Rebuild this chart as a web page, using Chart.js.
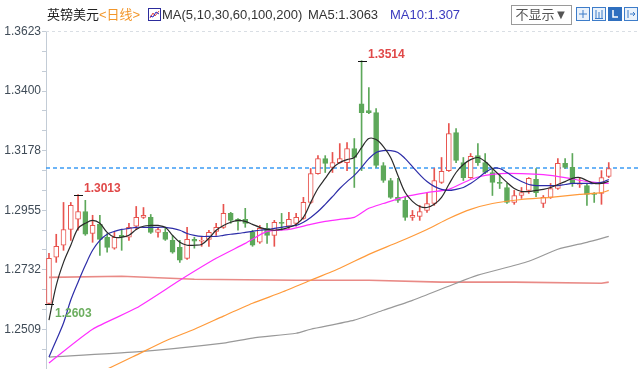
<!DOCTYPE html>
<html>
<head>
<meta charset="utf-8">
<script src="https://cdn.jsdelivr.net/npm/chart.js@4.4.1/dist/chart.umd.min.js"></script>
<style>
  body { margin: 0; background: #fff; }
  #wrap { position: relative; width: 640px; height: 380px; font-family: Arial, "Liberation Sans", "Noto Sans CJK SC", sans-serif; }
  #wrap canvas { position: absolute; left: 0; top: 0; }
  .hd { position: absolute; top: 6px; font-size: 13px; line-height: 17px; white-space: nowrap; color: #333; }
  #name { left: 47px; color: #222; }
  #name span { color: #f2962a; }
  #maIcon { position: absolute; left: 148px; top: 8px; }
  #maList { left: 162px; }
  #ma5Txt { left: 308px; }
  #ma10Txt { left: 390px; color: #3a3abf; }
  #hideBox { position: absolute; left: 511px; top: 5px; width: 59px; height: 18px; border: 1px solid #9a9a9a; font-size: 13px; line-height: 18px; color: #555; text-align: center; }
  .tb { position: absolute; top: 7px; }
</style>
</head>
<body>
<div id="wrap">
  <canvas id="myChart" width="640" height="380"></canvas>
  <div class="hd" id="name">英镑美元<span>&lt;日线&gt;</span></div>
  <svg id="maIcon" width="13" height="13"><rect x="0.5" y="0.5" width="12" height="12" fill="#fff" stroke="#2c2c9c"/><polyline points="2,10 5,5 7,8 11,3" fill="none" stroke="#e04848"/><polyline points="2,8 5,9 8,4 11,6" fill="none" stroke="#2c2cc0"/></svg>
  <div class="hd" id="maList">MA(5,10,30,60,100,200)</div>
  <div class="hd" id="ma5Txt"></div>
  <div class="hd" id="ma10Txt"></div>
  <div id="hideBox">不显示▼</div>
  <svg class="tb" style="left:576px" width="14" height="14"><rect x="0.5" y="0.5" width="13" height="13" fill="#eaf2fb" stroke="#3d7cc9"/><path d="M7 3V11M3 7H11" stroke="#3d7cc9"/></svg>
  <svg class="tb" style="left:592px" width="14" height="14"><rect x="0.5" y="0.5" width="13" height="13" fill="#eaf2fb" stroke="#3d7cc9"/><path d="M4 3V11M7 5V11M10 3V11M3 11.5H11" stroke="#3d7cc9"/></svg>
  <svg class="tb" style="left:608px" width="14" height="14"><rect x="0.5" y="0.5" width="13" height="13" fill="#2f6fbf" stroke="#2f6fbf"/><path d="M5 3V10H10" stroke="#fff" stroke-width="1.5" fill="none"/></svg>
  <svg class="tb" style="left:624px" width="14" height="14"><rect x="0.5" y="0.5" width="13" height="13" fill="#eaf2fb" stroke="#3d7cc9"/><path d="M4 3V11M6 7H11M9 5L11 7L9 9" stroke="#3d7cc9" fill="none"/></svg>
</div>
<script>
// daily candles, oldest first
const opens = [1.2606, 1.2779, 1.2824, 1.2883, 1.2921, 1.2950, 1.2868, 1.2902, 1.2854, 1.2813,
  1.2861, 1.2854, 1.2895, 1.2928, 1.2928, 1.2872, 1.2872, 1.2842, 1.2816, 1.2775,
  1.2846, 1.2839, 1.2846, 1.2876, 1.2891, 1.2943, 1.2921, 1.2921, 1.2872, 1.2835,
  1.2887, 1.2861, 1.2910, 1.2895, 1.2906, 1.2924, 1.2984, 1.3092, 1.3148, 1.3115,
  1.3133, 1.3133, 1.3185, 1.3353, 1.3327, 1.3320, 1.3122, 1.3066, 1.3003, 1.2992,
  1.2928, 1.2932, 1.2954, 1.2980, 1.3059, 1.3103, 1.3245, 1.3133, 1.3077, 1.3159,
  1.3133, 1.3096, 1.3059, 1.3040, 1.2984, 1.3010, 1.3029, 1.3070, 1.2980, 1.3003,
  1.3036, 1.3130, 1.3115, 1.3051, 1.3047, 1.3018, 1.3018, 1.3081];
const highs = [1.2794, 1.2865, 1.2984, 1.2984, 1.3013, 1.2992, 1.2936, 1.2936, 1.2868, 1.2872,
  1.2880, 1.2906, 1.2969, 1.2965, 1.2939, 1.2891, 1.2887, 1.2861, 1.2842, 1.2891,
  1.2854, 1.2854, 1.2880, 1.2906, 1.2977, 1.2947, 1.2924, 1.2962, 1.2880, 1.2898,
  1.2906, 1.2917, 1.2943, 1.2947, 1.2943, 1.3003, 1.3111, 1.3159, 1.3159, 1.3171,
  1.3204, 1.3208, 1.3223, 1.3514, 1.3413, 1.3335, 1.3133, 1.3074, 1.3074, 1.3003,
  1.2954, 1.2973, 1.3021, 1.3111, 1.3152, 1.3279, 1.3260, 1.3152, 1.3167, 1.3204,
  1.3167, 1.3111, 1.3092, 1.3055, 1.3029, 1.3040, 1.3077, 1.3111, 1.3010, 1.3055,
  1.3148, 1.3148, 1.3167, 1.3077, 1.3055, 1.3021, 1.3103, 1.3133];
const lows = [1.2603, 1.2760, 1.2805, 1.2842, 1.2880, 1.2861, 1.2835, 1.2786, 1.2798, 1.2809,
  1.2805, 1.2842, 1.2883, 1.2924, 1.2868, 1.2854, 1.2842, 1.2794, 1.2760, 1.2771,
  1.2813, 1.2820, 1.2820, 1.2861, 1.2887, 1.2906, 1.2880, 1.2891, 1.2820, 1.2831,
  1.2831, 1.2820, 1.2880, 1.2887, 1.2895, 1.2921, 1.2980, 1.3090, 1.3096, 1.3096,
  1.3130, 1.3103, 1.3040, 1.3103, 1.3316, 1.3115, 1.3059, 1.2999, 1.2984, 1.2917,
  1.2917, 1.2917, 1.2947, 1.2973, 1.3055, 1.3100, 1.3133, 1.3066, 1.3074, 1.3122,
  1.3092, 1.3010, 1.3036, 1.2980, 1.2977, 1.2999, 1.3018, 1.3006, 1.2965, 1.2999,
  1.3033, 1.3111, 1.3044, 1.3040, 1.2973, 1.2984, 1.2977, 1.3077];
const closes = [1.2775, 1.2820, 1.2883, 1.2973, 1.2950, 1.2865, 1.2898, 1.2846, 1.2816, 1.2854,
  1.2854, 1.2891, 1.2928, 1.2936, 1.2872, 1.2883, 1.2846, 1.2798, 1.2768, 1.2846,
  1.2839, 1.2842, 1.2872, 1.2891, 1.2943, 1.2917, 1.2913, 1.2906, 1.2824, 1.2887,
  1.2861, 1.2910, 1.2906, 1.2921, 1.2928, 1.2984, 1.3092, 1.3148, 1.3130, 1.3133,
  1.3148, 1.3185, 1.3152, 1.3320, 1.3320, 1.3122, 1.3066, 1.3003, 1.2992, 1.2928,
  1.2936, 1.2950, 1.2980, 1.3066, 1.3100, 1.3241, 1.3141, 1.3077, 1.3156, 1.3133,
  1.3096, 1.3059, 1.3055, 1.2984, 1.3010, 1.3021, 1.3074, 1.3021, 1.3003, 1.3036,
  1.3130, 1.3115, 1.3055, 1.3055, 1.3014, 1.3014, 1.3077, 1.3111];

// moving averages
const ma5 = [1.2544, 1.2674, 1.2760, 1.2824, 1.2887, 1.2906, 1.2917, 1.2906, 1.2872, 1.2854,
  1.2854, 1.2861, 1.2883, 1.2895, 1.2898, 1.2898, 1.2891, 1.2861, 1.2835, 1.2824,
  1.2824, 1.2827, 1.2850, 1.2880, 1.2898, 1.2910, 1.2917, 1.2913, 1.2902, 1.2891,
  1.2883, 1.2880, 1.2883, 1.2891, 1.2902, 1.2928, 1.2984, 1.3036, 1.3074, 1.3111,
  1.3133, 1.3144, 1.3152, 1.3189, 1.3223, 1.3219, 1.3193, 1.3152, 1.3085, 1.3021,
  1.2988, 1.2969, 1.2965, 1.2977, 1.3003, 1.3051, 1.3096, 1.3126, 1.3144, 1.3152,
  1.3137, 1.3111, 1.3085, 1.3059, 1.3036, 1.3025, 1.3025, 1.3029, 1.3033, 1.3040,
  1.3051, 1.3062, 1.3074, 1.3077, 1.3066, 1.3055, 1.3055, 1.3063];
const ma10 = [1.2406, 1.2469, 1.2533, 1.2619, 1.2686, 1.2749, 1.2805, 1.2842, 1.2865, 1.2876,
  1.2883, 1.2887, 1.2891, 1.2891, 1.2891, 1.2891, 1.2891, 1.2887, 1.2880, 1.2868,
  1.2861, 1.2857, 1.2857, 1.2857, 1.2861, 1.2865, 1.2868, 1.2872, 1.2876, 1.2880,
  1.2883, 1.2887, 1.2891, 1.2895, 1.2898, 1.2910, 1.2928, 1.2950, 1.2977, 1.3006,
  1.3036, 1.3062, 1.3085, 1.3115, 1.3148, 1.3171, 1.3178, 1.3178, 1.3171, 1.3148,
  1.3118, 1.3088, 1.3062, 1.3044, 1.3033, 1.3029, 1.3033, 1.3040, 1.3055, 1.3074,
  1.3096, 1.3111, 1.3111, 1.3096, 1.3077, 1.3062, 1.3051, 1.3047, 1.3047, 1.3047,
  1.3047, 1.3051, 1.3055, 1.3055, 1.3055, 1.3055, 1.3059, 1.3070];
// slow averages: [day index, value]
const ma30 = [[0, 1.2384], [6, 1.2510], [12, 1.2589], [18, 1.2693], [23, 1.2775], [27, 1.2831],
  [30, 1.2876], [33, 1.2883], [36, 1.2902], [38, 1.2913], [40, 1.2921], [42, 1.2928], [44, 1.2962],
  [46, 1.2980], [49, 1.3006], [52, 1.3021], [55, 1.3033], [58, 1.3070], [60, 1.3085], [62, 1.3092],
  [65, 1.3092], [68, 1.3088], [71, 1.3077], [74, 1.3062], [77, 1.3055]];
const ma60 = [[6, 1.2340], [8, 1.2361], [12, 1.2413], [16, 1.2466], [20, 1.2510], [24, 1.2559],
  [28, 1.2607], [32, 1.2648], [36, 1.2693], [40, 1.2738], [44, 1.2790], [48, 1.2835], [52, 1.2883],
  [55, 1.2924], [58, 1.2958], [61, 1.2980], [65, 1.2995], [69, 1.3003], [73, 1.3014], [76, 1.3021],
  [77, 1.3029]];
const ma100 = [[0, 1.2406], [12, 1.2425], [24, 1.2458], [28, 1.2477], [34, 1.2495], [36, 1.2510],
  [42, 1.2544], [46, 1.2581], [50, 1.2618], [56, 1.2682], [59, 1.2712], [66, 1.2764], [70, 1.2809],
  [74, 1.2835], [77, 1.2857]];
const ma200 = [[0, 1.2704], [10, 1.2708], [20, 1.2697], [34, 1.2693], [44, 1.2693], [54, 1.2686],
  [64, 1.2686], [76, 1.2682], [77, 1.2686]];

const yLabels = [1.3623, 1.3400, 1.3178, 1.2955, 1.2732, 1.2509];
const markedHighs = [4, 43];
const markedLows = [0];

const upColor = '#e8534e';
const downColor = '#5da85a';

const last = closes.length - 1;
document.getElementById('ma5Txt').textContent = 'MA5:' + String(parseFloat(ma5[last].toFixed(4)));
document.getElementById('ma10Txt').textContent = 'MA10:' + String(parseFloat(ma10[last].toFixed(4)));

const candleColors = closes.map((c, i) => c >= opens[i] ? upColor : downColor);
const pairs = (arr) => arr.map(p => ({ x: p[0], y: p[1] }));
const maLine = (data, color, tension) => ({
	type: 'line',
	data: data,
	borderColor: color,
	borderWidth: 1.2,
	pointRadius: 0,
	tension: tension,
	order: 0
});

const overlay = {
	id: 'overlay',
	beforeDatasetsDraw(chart) {
		const { ctx, chartArea: a, scales: { y } } = chart;
		ctx.save();
		ctx.lineWidth = 1;
		ctx.strokeStyle = '#d9dee4';
		ctx.setLineDash([3, 3]);
		ctx.beginPath();
		ctx.moveTo(a.left, a.top + 0.5);
		ctx.lineTo(a.right, a.top + 0.5);
		ctx.stroke();
		const py = Math.round(y.getPixelForValue(closes[last]));
		ctx.strokeStyle = '#3d9cf5';
		ctx.lineWidth = 1.6;
		ctx.setLineDash([4, 3]);
		ctx.beginPath();
		ctx.moveTo(a.left, py);
		ctx.lineTo(a.right, py);
		ctx.stroke();
		ctx.restore();
	},
	afterDatasetsDraw(chart) {
		const { ctx, scales: { x, y } } = chart;
		ctx.save();
		ctx.font = 'bold 12px Arial, "Liberation Sans", sans-serif';
		ctx.textBaseline = 'middle';
		ctx.textAlign = 'left';
		ctx.strokeStyle = '#111';
		ctx.lineWidth = 1;
		const mark = (i, v, dy, color) => {
			const px = Math.round(x.getPixelForValue(i));
			const py = Math.round(y.getPixelForValue(v)) + 0.5;
			ctx.beginPath();
			ctx.moveTo(px - 4, py);
			ctx.lineTo(px + 5, py);
			ctx.stroke();
			ctx.fillStyle = color;
			ctx.fillText(v.toFixed(4), px + 6, py + dy);
		};
		markedHighs.forEach(i => mark(i, highs[i], -7, '#e04848'));
		markedLows.forEach(i => mark(i, lows[i], 9, '#6cae5f'));
		ctx.restore();
	}
};

const ctx = document.getElementById('myChart').getContext('2d');
const chart = new Chart(ctx, {
	type: 'bar',
	data: {
		datasets: [
			maLine(ma5.map((v, i) => ({ x: i, y: v })), '#2a2a2a', 0.35),
			maLine(ma10.map((v, i) => ({ x: i, y: v })), '#2d2da8', 0.35),
			maLine(pairs(ma30), '#ff2eff', 0.2),
			maLine(pairs(ma60), '#ff9a3a', 0.2),
			maLine(pairs(ma100), '#999999', 0.2),
			Object.assign(maLine(pairs(ma200), '#e98a86', 0), { borderWidth: 1.6 }),
			{
				label: 'body',
				data: opens.map((o, i) => ({ x: i, y: [o, closes[i]] })),
				backgroundColor: candleColors.map(c => c === upColor ? '#ffffff' : downColor),
				borderColor: candleColors,
				borderWidth: 1,
				borderSkipped: false,
				barThickness: 5,
				maxBarThickness: 5,
				minBarLength: 1,
				grouped: false,
				order: 1
			},
			{
				label: 'wick',
				data: lows.map((l, i) => ({ x: i, y: [l, highs[i]] })),
				backgroundColor: candleColors,
				borderWidth: 0,
				barThickness: 1,
				maxBarThickness: 1,
				grouped: false,
				order: 2
			}
		]
	},
	options: {
		responsive: false,
		animation: false,
		layout: { padding: { top: 31, bottom: 12, left: 0, right: 0 } },
		plugins: {
			legend: { display: false },
			tooltip: { enabled: false }
		},
		scales: {
			x: {
				type: 'linear',
				display: false,
				offset: false,
				min: -0.41,
				max: 81.3
			},
			y: {
				min: 1.2365,
				max: 1.3625,
				afterFit(scale) { scale.width = 46; },
				afterBuildTicks(scale) {
					const t = [];
					yLabels.forEach((v, k) => {
						t.push({ value: v });
						const step = (k < yLabels.length - 1 ? v - yLabels[k + 1] : yLabels[k - 1] - v) / 3;
						for (let j = 1; j < 3; j++) {
							const m = v - j * step;
							if (m > scale.min) t.push({ value: m });
						}
					});
					scale.ticks = t;
				},
				ticks: {
					autoSkip: false,
					padding: 1,
					color: '#3f4b57',
					font: { size: 12, family: 'Arial, "Liberation Sans", sans-serif' },
					callback: (v) => yLabels.includes(v) ? v.toFixed(4) : ''
				},
				grid: { drawOnChartArea: false, tickLength: 4, tickColor: '#c3ccd6' },
				border: { display: true, color: '#c3ccd6' }
			}
		}
	},
	plugins: [ overlay ]
});
</script>
</body>
</html>
